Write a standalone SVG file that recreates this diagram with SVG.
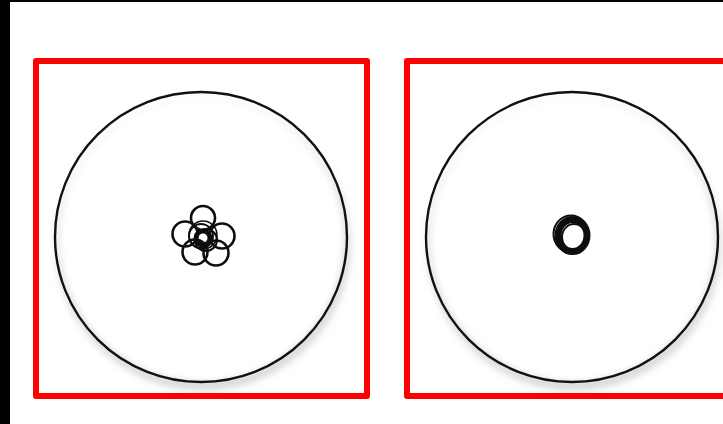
<svg xmlns="http://www.w3.org/2000/svg" width="723" height="424" viewBox="0 0 723 424">
<defs>
<style>
.frame{fill:none;stroke:#ff0000;stroke-width:6;stroke-linejoin:round}
.big{fill:none;stroke:#111;stroke-width:2.4}
.sm{fill:none;stroke:#111}
.shadow{fill:none;stroke:#c4c4c4;stroke-width:7}
</style>
<filter id="blur" x="-20%" y="-20%" width="140%" height="140%"><feGaussianBlur stdDeviation="4"/></filter>
<filter id="sblur" x="-20%" y="-20%" width="140%" height="140%"><feGaussianBlur stdDeviation="0.6"/></filter>
</defs>
<rect x="0" y="0" width="723" height="424" fill="#fff"/>
<rect x="0" y="0" width="10" height="424" fill="#000"/>
<rect x="0" y="0" width="723" height="2" fill="#000"/>
<g id="panel1">
<ellipse class="shadow" cx="203" cy="245" rx="142" ry="140" filter="url(#blur)"/>
<ellipse cx="201" cy="237" rx="143" ry="142" fill="#fff" filter="url(#blur)"/>
<ellipse class="big" cx="201" cy="237" rx="146" ry="145"/>
<g filter="url(#sblur)">
<circle class="sm" cx="203" cy="218" r="12" stroke-width="2.6"/>
<circle class="sm" cx="185" cy="234" r="12.5" stroke-width="2.6"/>
<circle class="sm" cx="222" cy="236" r="12.5" stroke-width="2.6"/>
<circle class="sm" cx="195" cy="252" r="12.5" stroke-width="2.6"/>
<circle class="sm" cx="216" cy="253" r="12.5" stroke-width="2.6"/>
<circle class="sm" cx="203" cy="238" r="7" stroke-width="5"/>
<circle class="sm" cx="201" cy="236" r="12" stroke-width="2"/>
<circle class="sm" cx="206" cy="240" r="11" stroke-width="2"/>
<circle class="sm" cx="203" cy="235" r="14" stroke-width="1.5"/>
</g>
<rect class="frame" x="36" y="61" width="331" height="335"/>
</g>
<g id="panel2">
<ellipse class="shadow" cx="574" cy="245" rx="142" ry="140" filter="url(#blur)"/>
<ellipse cx="572" cy="237" rx="143" ry="142" fill="#fff" filter="url(#blur)"/>
<ellipse class="big" cx="572" cy="237" rx="146" ry="145"/>
<g filter="url(#sblur)">
<ellipse class="sm" cx="572.5" cy="235.5" rx="14.5" ry="16" stroke-width="7"/>
<ellipse class="sm" cx="571" cy="234" rx="17.5" ry="18.5" stroke-width="2"/>
<ellipse class="sm" cx="574" cy="237" rx="12" ry="13" stroke-width="2"/>
</g>
<rect class="frame" x="407" y="61" width="330" height="335"/>
</g>
</svg>
